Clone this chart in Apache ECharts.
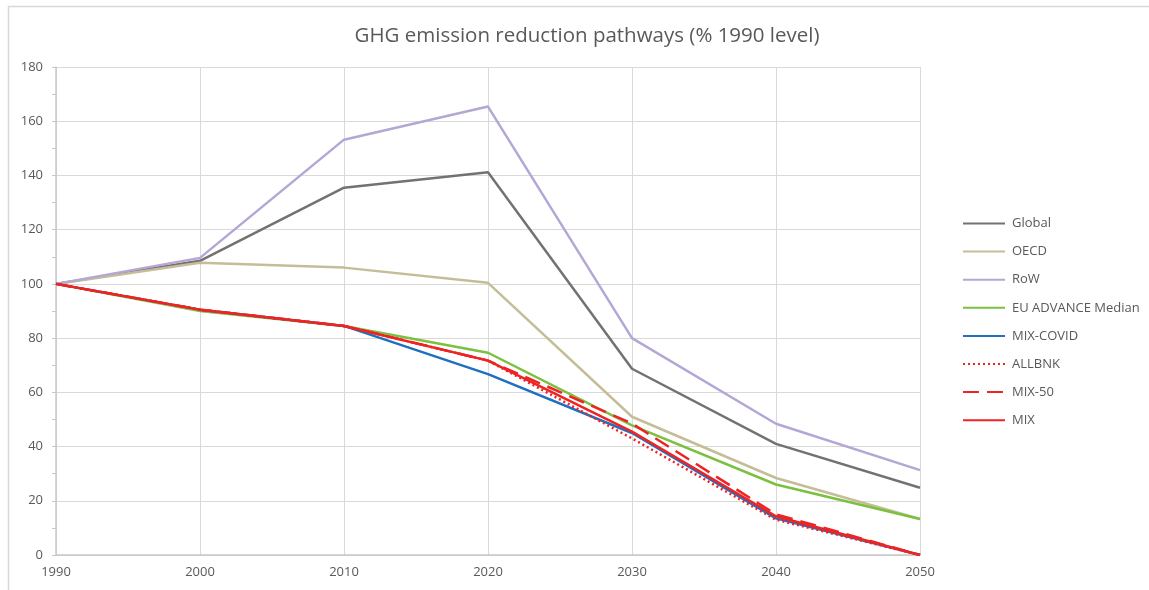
<!DOCTYPE html>
<html>
<head>
<meta charset="utf-8">
<script src="https://cdn.jsdelivr.net/npm/echarts@6/dist/echarts.min.js"></script>
<style>
  html, body { margin: 0; padding: 0; background: #fff; }
  #chart { width: 1149px; height: 590px; }
</style>
</head>
<body>
<div id="chart"></div>
<script>
// Years on the horizontal axis
var years = [1990, 2000, 2010, 2020, 2030, 2040, 2050];

// Emissions as % of the 1990 level
var globalVals = [100, 108.5, 135.5, 141.2, 68.7, 41.0, 24.8];
var oecdVals   = [100, 107.8, 106.0, 100.4, 51.0, 28.4, 13.3];
var rowVals    = [100, 109.6, 153.2, 165.4, 80.0, 48.4, 31.3];
var euAdvVals  = [100, 90.0, 84.5, 74.6, 47.8, 26.0, 13.3];
var mixCovid   = [100, 90.5, 84.5, 66.7, 45.0, 13.5, 0];
var allbnk     = [100, 90.5, 84.5, 71.7, 43.0, 13.0, 0];
var mix50      = [100, 90.5, 84.5, 71.7, 48.5, 15.0, 0];
var mix        = [100, 90.5, 84.5, 71.7, 45.5, 14.3, 0];

var seriesNames = ['Global', 'OECD', 'RoW', 'EU ADVANCE Median', 'MIX-COVID', 'ALLBNK', 'MIX-50', 'MIX'];

function pairs(vals) {
  return years.map(function (y, i) { return [y, vals[i]]; });
}

function lineSeries(name, vals, color, type) {
  return {
    name: name,
    type: 'line',
    data: pairs(vals),
    symbol: 'none',
    lineStyle: { color: color, width: 2.5, type: type || 'solid', cap: 'butt' },
    itemStyle: { color: color },
    emphasis: { disabled: true }
  };
}

var textColor = '#595959';
var fontFam = '"Open Sans", "Noto Sans", sans-serif';

var chart = echarts.init(document.getElementById('chart'), null, { renderer: 'canvas' });
chart.setOption({
  animation: false,
  backgroundColor: '#ffffff',
  graphic: [{
    type: 'rect',
    shape: { x: 8.5, y: 6.5, width: 1300, height: 700 },
    style: { fill: 'none', stroke: '#d9d9d9', lineWidth: 1.5 },
    silent: true
  }],
  title: {
    text: 'GHG emission reduction pathways (% 1990 level)',
    left: 582,
    textAlign: 'center',
    top: 21,
    textStyle: { color: textColor, fontSize: 20.5, fontWeight: 'normal', fontFamily: fontFam }
  },
  legend: {
    orient: 'vertical',
    left: 957,
    top: 212,
    itemWidth: 42,
    itemHeight: 14,
    itemGap: 15.1,
    data: seriesNames,
    itemStyle: { opacity: 0 },
    textStyle: { color: textColor, fontSize: 13, fontFamily: fontFam, padding: [0, 0, 0, 2] }
  },
  grid: { left: 56, right: 229, top: 67, bottom: 35, containLabel: false },
  xAxis: {
    type: 'value',
    min: 1990,
    max: 2050,
    interval: 10,
    axisLine: { show: true, lineStyle: { color: '#c8c8c8', width: 1.5 } },
    axisTick: { show: false },
    axisLabel: { color: textColor, fontSize: 13, fontFamily: fontFam, margin: 11, formatter: function (v) { return String(v); } },
    splitLine: { show: true, lineStyle: { color: '#d9d9d9', width: 1 } }
  },
  yAxis: {
    type: 'value',
    min: 0,
    max: 180,
    interval: 20,
    axisLine: { show: true, lineStyle: { color: '#c8c8c8', width: 1.5 } },
    axisTick: { show: true, inside: false, length: 4, lineStyle: { color: '#c8c8c8' } },
    minorTick: { show: true, splitNumber: 2, length: 4, lineStyle: { color: '#c8c8c8' } },
    axisLabel: { color: textColor, fontSize: 13, fontFamily: fontFam, margin: 13 },
    splitLine: { show: true, lineStyle: { color: '#d9d9d9', width: 1 } }
  },
  series: [
    lineSeries('Global', globalVals, '#767171'),
    lineSeries('OECD', oecdVals, '#c4bd97'),
    lineSeries('RoW', rowVals, '#b4a7d6'),
    lineSeries('EU ADVANCE Median', euAdvVals, '#7cc03f'),
    lineSeries('MIX-COVID', mixCovid, '#1f70c1'),
    lineSeries('ALLBNK', allbnk, '#ee2424', [2, 3]),
    lineSeries('MIX-50', mix50, '#ee2424', [16, 8]),
    lineSeries('MIX', mix, '#ee2424')
  ]
});
</script>
</body>
</html>
